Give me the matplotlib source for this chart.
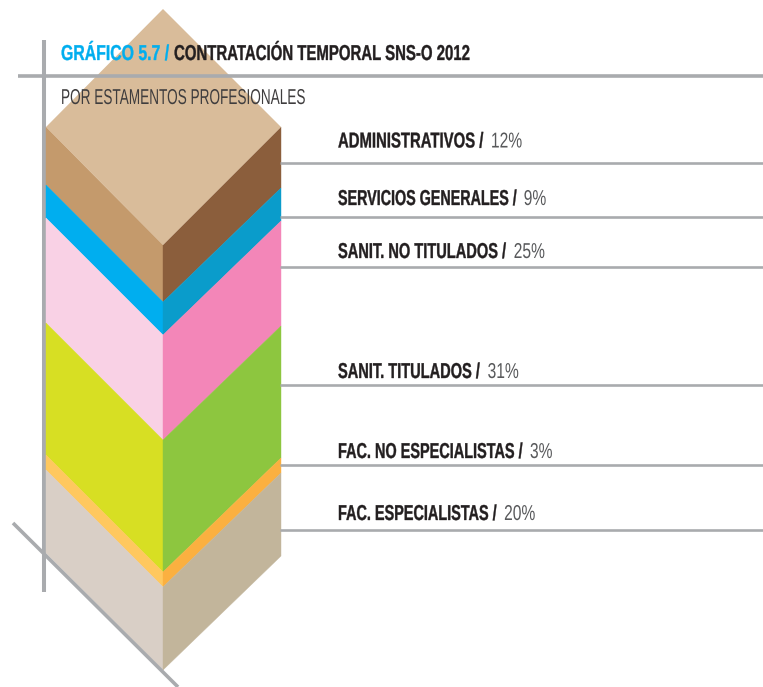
import matplotlib
matplotlib.use("Agg")
import matplotlib.pyplot as plt
from matplotlib.patches import Polygon
from matplotlib.patheffects import AbstractPathEffect
from matplotlib.text import Text
from matplotlib.transforms import Affine2D, Bbox

# ---- data ----
categories = ["ADMINISTRATIVOS", "SERVICIOS GENERALES", "SANIT. NO TITULADOS",
              "SANIT. TITULADOS", "FAC. NO ESPECIALISTAS", "FAC. ESPECIALISTAS"]
percent = [12, 9, 25, 31, 3, 20]
band_heights = [57, 33, 105, 132, 15, 83]   # drawn height of each layer
left_colors = ["#C49A6C", "#00AEEF", "#F9D1E5", "#D7DF23", "#FFC85F", "#D9CFC6"]
right_colors = ["#8B5E3C", "#0A9CCB", "#F386B8", "#8DC63F", "#FBB040", "#C2B59B"]
top_color = "#D9BC9A"
title_blue = "GRÁFICO 5.7 / "
title_black = "CONTRATACIÓN TEMPORAL SNS-O 2012"
subtitle = "POR ESTAMENTOS PROFESIONALES"

# ---- layout ----
W, H = 763, 687
XL, XC, XR = 46, 163, 281
TOP_EDGE = 127
APEX = 9
FRONT = 245
DROP_L, DROP_R = 117, 114
LEADER_Y = [163, 217, 267, 385, 465, 530]
LABEL_BASE = [147.5, 205, 258, 378, 458, 520]
LABEL_SX = [0.692, 0.665, 0.679, 0.678, 0.672, 0.671]
LINE = "#A9ABAE"
INK = "#231F20"
FONT = "Liberation Sans"
SIZE = 15.5


class Condense(AbstractPathEffect):
    """Narrow the glyphs horizontally, optionally thickening the strokes."""

    def __init__(self, sx, stroke=0.0):
        super().__init__()
        self.sx = sx
        self.stroke = stroke

    def draw_path(self, renderer, gc, tpath, affine, rgbFace=None):
        gc0 = renderer.new_gc()
        gc0.copy_properties(gc)
        gc0.set_linewidth(self.stroke)
        gc0.set_foreground(rgbFace if rgbFace is not None else gc.get_rgb())
        renderer.draw_path(gc0, tpath, Affine2D().scale(self.sx, 1) + affine, rgbFace)
        gc0.restore()


class NarrowText(Text):
    """A left-aligned text whose reported extent matches its condensed drawing."""

    def __init__(self, *args, sx=1.0, stroke=0.0, **kw):
        super().__init__(*args, **kw)
        self.sx = sx
        self.set_path_effects([Condense(sx, stroke)])

    def _get_layout(self, renderer):
        bbox, info, descent = super()._get_layout(renderer)
        narrow = Bbox.from_extents(bbox.x0, bbox.y0, bbox.x0 + bbox.width * self.sx, bbox.y1)
        return narrow, info, descent


fig = plt.figure(figsize=(W / 100, H / 100), dpi=100, facecolor="white")
ax = fig.add_axes([0, 0, 1, 1])
ax.set_xlim(0, W)
ax.set_ylim(H, 0)
ax.axis("off")

ax.plot([44, 44], [40, 592], color=LINE, lw=2.9, solid_capstyle="butt", zorder=1)

ax.add_patch(Polygon([(XC, APEX), (XR, TOP_EDGE), (XC, FRONT), (XL, TOP_EDGE)],
                     closed=True, fc=top_color, ec="none", zorder=3))
front = FRONT
left_top = TOP_EDGE
right_top = TOP_EDGE
for h, cl, cr in zip(band_heights, left_colors, right_colors):
    nf = front + h
    left_bot = nf - DROP_L
    right_bot = nf - DROP_R
    ax.add_patch(Polygon([(XL, left_top), (XC, front), (XC, nf), (XL, left_bot)],
                         closed=True, fc=cl, ec=cl, lw=0.3, zorder=2))
    ax.add_patch(Polygon([(XC, front), (XR, right_top), (XR, right_bot), (XC, nf)],
                         closed=True, fc=cr, ec=cr, lw=0.3, zorder=2))
    front, left_top, right_top = nf, left_bot, right_bot

ax.plot([18, W], [76, 76], color=LINE, lw=2.6, solid_capstyle="butt", zorder=4)
ax.plot([13, 178], [523, 687], color=LINE, lw=2.6, solid_capstyle="butt", zorder=4)
for y in LEADER_Y:
    ax.plot([280, W], [y, y], color=LINE, lw=1.9, solid_capstyle="butt", zorder=4)

fig.canvas.draw()
rend = fig.canvas.get_renderer()


def run(x, y, s, color, weight, sx, stroke=0.0):
    t = NarrowText(x, y, s, color=color, fontweight=weight, fontsize=SIZE, family=FONT,
                   va="baseline", ha="left", zorder=5, sx=sx, stroke=stroke)
    ax.add_artist(t)
    width = t.get_window_extent(rend).width
    if s.endswith(" "):
        a = ax.text(0, 0, "x x", fontweight=weight, fontsize=SIZE, family=FONT)
        b = ax.text(0, 0, "xx", fontweight=weight, fontsize=SIZE, family=FONT)
        width += (a.get_window_extent(rend).width - b.get_window_extent(rend).width) * sx
        a.remove()
        b.remove()
    return x + width


run(61, 60, title_blue.rstrip(), "#00AEEF", "bold", 0.735, 0.25)
run(174, 60, title_black, INK, "bold", 0.695, 0.25)
run(61, 104, subtitle, "#3F3D3E", "normal", 0.632)

for cat, p, y, sx in zip(categories, percent, LABEL_BASE, LABEL_SX):
    nx = run(338, y, f"{cat} / ", INK, "bold", sx, 0.25)
    run(nx, y, f"{p}%", "#58595B", "normal", 0.725)

fig.savefig("out.png", dpi=100, facecolor="white")
